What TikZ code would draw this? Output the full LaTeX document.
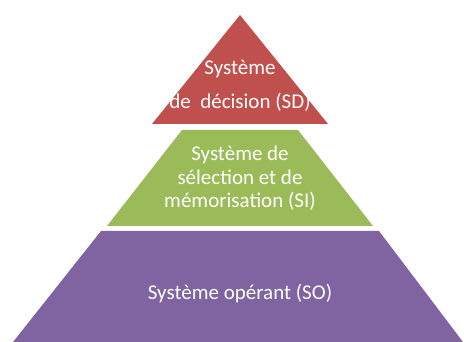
\documentclass[tikz,border=0pt]{standalone}
\usepackage{fontspec}
\setmainfont{Carlito}
\definecolor{redT}{HTML}{C0504D}
\definecolor{greenT}{HTML}{9BBB59}
\definecolor{purpleT}{HTML}{8064A2}
\begin{document}
\begin{tikzpicture}[x=1pt,y=-1pt,
  lvl/.style={draw=none},
  lbl/.style={text=white,align=center,inner sep=0pt}]
\useasboundingbox (0,0) rectangle (464,342);
\fill[redT] (240,15) -- (328,124) -- (152,124) -- cycle;
\fill[greenT] (182,130) -- (298,130) -- (373,226) -- (107,226) -- cycle;
\fill[purpleT] (101,231) -- (379,231) -- (463,342) -- (13,342) -- cycle;
\node[lbl,font=\fontsize{21}{34}\selectfont] (sd) at (240,86) {Système\\de\ \ décision (SD)};
\node[lbl,font=\fontsize{21}{23.5}\selectfont] (si) at (240,178.5) {Système de\\sélection et de\\mémorisation (SI)};
\node[lbl,font=\fontsize{21}{23.5}\selectfont] (so) at (240,294) {Système opérant (SO)};
\end{tikzpicture}
\end{document}
